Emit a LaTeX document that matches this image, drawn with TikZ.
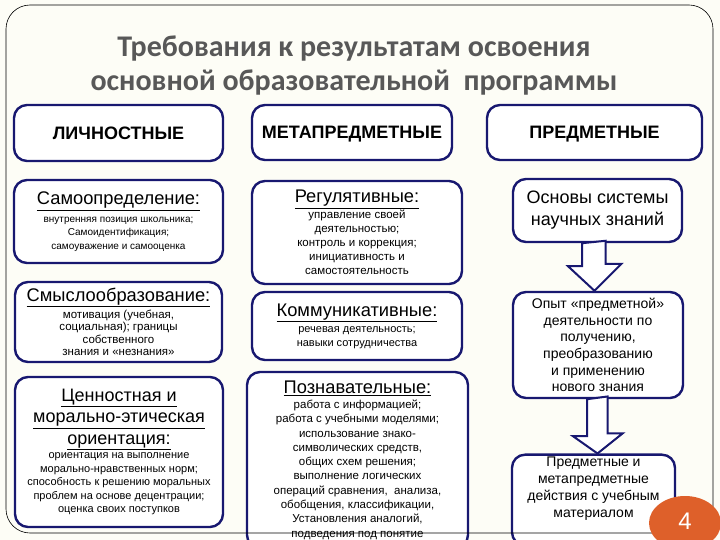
\documentclass[tikz,border=0pt]{standalone}
\usepackage{fontspec}
\setmainfont{Liberation Sans}
\newfontfamily\titlefont{Carlito}
\definecolor{navy}{RGB}{24,24,112}
\definecolor{bgcream}{RGB}{253,253,246}
\definecolor{titlegray}{RGB}{88,88,88}
\definecolor{badge}{RGB}{222,96,42}
% size, baseline skip; lines keep the skip even when they touch
\newcommand{\txt}[2]{\fontsize{#1}{#2}\selectfont\lineskiplimit=-50pt\relax}
\newcommand{\boxcap}[1]{{\fontsize{18.3}{20}\selectfont\underline{#1}}}

\begin{document}
\begin{tikzpicture}[x=1pt,y=-1pt,
  box/.style = {draw=navy, line width=2.4pt, rounded corners=13pt, fill=white, align=center, inner sep=2pt},
  head/.style = {box, font=\bfseries\fontsize{18}{20}\selectfont, text height=13pt, text depth=0pt},
  blockarr/.style = {draw=navy, fill=white, line width=2pt, line join=miter}]
  \fill[bgcream] (0,0) rectangle (720,540);
  \useasboundingbox (0,0) rectangle (720,540);

  % title
  \node[font=\titlefont\bfseries\fontsize{30}{34}\selectfont, text=titlegray, align=center] (title) at (354,66)
    {Требования к результатам освоения\\основной образовательной\ \ программы};

  % column heads
  \node[head, minimum width=209, minimum height=56] (lich) at (118.5,133) {ЛИЧНОСТНЫЕ};
  \node[head, minimum width=200, minimum height=55] (meta) at (352,132.5) {МЕТАПРЕДМЕТНЫЕ};
  \node[head, minimum width=215, minimum height=55] (pred) at (594.5,132.5) {ПРЕДМЕТНЫЕ};

  % left column
  \node[box, minimum width=209, minimum height=83, font=\txt{10}{13.5}] (samo) at (118.5,221.5)
    {\boxcap{Самоопределение:}\\[4pt]
     внутренняя позиция школьника;\\ Самоидентификация;\\ самоуважение и самооценка};
  \node[box, minimum width=207, minimum height=80, font=\txt{11.5}{12.5}] (smysl) at (118.5,322)
    {\boxcap{Смыслообразование:}\\[4.5pt]
     мотивация (учебная,\\ социальная); границы\\ собственного\\ знания и «незнания»};
  \node[box, minimum width=208, minimum height=150, font=\txt{11}{13.5}] (cenn) at (119,452)
    {{\fontsize{18}{20}\selectfont\underline{Ценностная и}}\\[8pt]
     {\fontsize{18}{20}\selectfont\underline{морально-этическая}}\\[8pt]
     {\fontsize{18}{20}\selectfont\underline{ориентация:}}\\[1pt]
     ориентация на выполнение\\ морально-нравственных норм;\\ способность к решению моральных\\
     проблем на основе децентрации;\\ оценка своих поступков};

  % middle column
  \node[box, minimum width=210, minimum height=103, font=\txt{11.5}{14}] (reg) at (357,232.5)
    {\boxcap{Регулятивные:}\\[2pt]
     управление своей\\ деятельностью;\\ контроль и коррекция;\\ инициативность и\\ самостоятельность};
  \node[box, minimum width=210, minimum height=68, font=\txt{11}{13.5}] (komm) at (357,326)
    {\boxcap{Коммуникативные:}\\[3pt]
     речевая деятельность;\\ навыки сотрудничества};
  \node[box, minimum width=221, minimum height=176, font=\txt{11.5}{14.3}] (pozn) at (357.5,460)
    {\boxcap{Познавательные:}\\[1pt]
     работа с информацией;\\ работа с учебными моделями;\\ использование знако-\\
     символических средств,\\ общих схем решения;\\ выполнение логических\\ операций сравнения,\ \ анализа,\\
     обобщения, классификации,\\ Установления аналогий,\\ подведения под понятие};

  % right column
  \node[box, minimum width=169, minimum height=63, font=\txt{18}{22}] (osn) at (597.5,210.5)
    {Основы системы\\ научных знаний};
  \node[box, minimum width=170, minimum height=106, font=\txt{14}{16.6}] (opyt) at (598,345)
    {Опыт «предметной»\\ деятельности по\\ получению,\\ преобразованию\\ и применению\\ нового знания};
  \node[box, minimum width=163, minimum height=90, font=\txt{14}{17}, text depth=26pt] (dejst) at (593.5,500)
    {Предметные и\\ метапредметные\\ действия с учебным\\ материалом};

  % block arrows
  \draw[blockarr] ([xshift=-15.5pt]osn.south) -- ++(0,23) -- ++(-14,0) -- ([xshift=-3.5pt]opyt.north)
    -- ++(27,-27) -- ++(-16,0) -- ++(0,-23) -- cycle;
  \draw[blockarr] ([xshift=-11pt]opyt.south) -- ++(0,37) -- ++(-14,0) -- ([xshift=4pt]dejst.north)
    -- ++(25,-20) -- ++(-15,0) -- ++(0,-37) -- cycle;

  % frame and page badge
  \draw[black, line width=0.6pt, rounded corners=24pt] (6,5) rectangle (713,533);
  \fill[badge] (685,523) ellipse [x radius=36, y radius=27];
  \node[text=white, font=\fontsize{24}{24}\selectfont] (num) at (685,521) {4};
\end{tikzpicture}
\end{document}
